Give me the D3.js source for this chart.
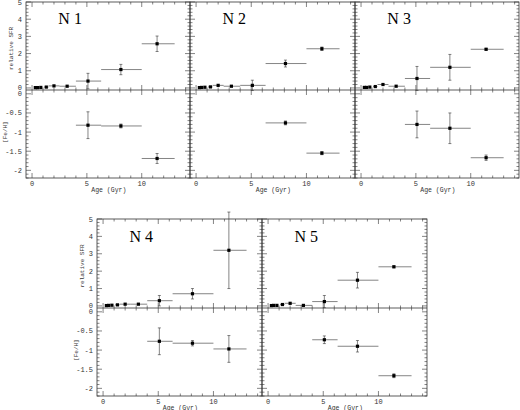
<!DOCTYPE html>
<html><head><meta charset="utf-8">
<script src="https://cdn.jsdelivr.net/npm/d3@7"></script>
<style>body{margin:0;background:#fff}</style>
</head><body>
<script>
// shared age bins: center, low, high
const ageMid = [0.3, 0.5, 0.8, 1.3, 2.0, 3.2, 5.1, 8.1, 11.4];
const ageLo  = [0.3, 0.5, 0.8, 1.1, 1.5, 2.5, 4.0, 6.3, 10.0];
const ageHi  = [0.3, 0.5, 0.8, 1.5, 2.5, 4.0, 6.3, 10.0, 13.0];

const sfrN1 = [0.02, 0.02, 0.03, 0.05, 0.12, 0.1, 0.4, 1.07, 2.57];
const sfrErrN1 = [0, 0, 0, 0, 0, 0, 0.45, 0.3, 0.45];
const sfrN2 = [0.02, 0.03, 0.04, 0.06, 0.15, 0.1, 0.15, 1.42, 2.28];
const sfrErrN2 = [0, 0, 0, 0, 0, 0, 0.3, 0.2, 0.1];
const sfrN3 = [0.03, 0.03, 0.05, 0.08, 0.2, 0.1, 0.55, 1.2, 2.25];
const sfrErrN3 = [0, 0, 0, 0, 0, 0, 0.7, 0.75, 0.05];
const sfrN4 = [0.02, 0.03, 0.04, 0.06, 0.1, 0.1, 0.3, 0.7, 3.2];
const sfrErrN4 = [0, 0, 0, 0, 0, 0, 0.3, 0.3, 2.2];
const sfrN5 = [0.02, 0.03, 0.03, 0.08, 0.15, 0.03, 0.25, 1.48, 2.25];
const sfrErrN5 = [0, 0, 0, 0, 0, 0, 0.35, 0.45, 0.05];

// [Fe/H] for the three oldest bins (null = none)
const feN1 = [-0.82, -0.84, -1.69], feErrN1 = [0.35, 0.05, 0.13];
const feN2 = [null, -0.76, -1.55],  feErrN2 = [0, 0.05, 0.04];
const feN3 = [-0.8, -0.9, -1.67],   feErrN3 = [0.35, 0.4, 0.07];
const feN4 = [-0.77, -0.82, -0.97], feErrN4 = [0.35, 0.07, 0.35];
const feN5 = [-0.73, -0.9, -1.67],  feErrN5 = [0.1, 0.15, 0.05];

const names = ["N 1", "N 2", "N 3", "N 4", "N 5"];
const sfrs = [sfrN1, sfrN2, sfrN3, sfrN4, sfrN5];
const sfrErrs = [sfrErrN1, sfrErrN2, sfrErrN3, sfrErrN4, sfrErrN5];
const fes = [feN1, feN2, feN3, feN4, feN5];
const feErrs = [feErrN1, feErrN2, feErrN3, feErrN4, feErrN5];

const svg = d3.select("body").append("svg").attr("width", 520).attr("height", 410)
  .style("font-family", "Liberation Mono, monospace");

// panel frames: left, right, top, divider, bottom
const panels = [
  {x0: 26, x1: 190, t: 2, m: 90, b: 178, yl: true},
  {x0: 190, x1: 355, t: 2, m: 90, b: 178, yl: false},
  {x0: 355, x1: 519, t: 2, m: 90, b: 178, yl: false},
  {x0: 97, x1: 262, t: 219, m: 308, b: 396, yl: true},
  {x0: 262, x1: 427, t: 219, m: 308, b: 396, yl: false}
];
const col = "#333";

panels.forEach((p, k) => {
  const x = d3.scaleLinear().domain([-0.55, 14.4]).range([p.x0, p.x1]);
  const ys = d3.scaleLinear().domain([-0.12, 5]).range([p.m, p.t]);
  const yf = d3.scaleLinear().domain([-2.2, 0.1]).range([p.b, p.m]);
  const g = svg.append("g");

  g.append("rect").attr("x", p.x0).attr("y", p.t).attr("width", p.x1 - p.x0)
    .attr("height", p.b - p.t).attr("fill", "none").attr("stroke", col).attr("stroke-width", 0.8);
  g.append("line").attr("x1", p.x0).attr("x2", p.x1).attr("y1", p.m).attr("y2", p.m)
    .attr("stroke", col).attr("stroke-width", 0.8);

  const tick = (x1, y1, x2, y2) => g.append("line").attr("x1", x1).attr("y1", y1)
    .attr("x2", x2).attr("y2", y2).attr("stroke", col).attr("stroke-width", 0.6);

  // x ticks on every horizontal border
  d3.range(0, 14.01, 1).forEach(v => {
    const len = v % 5 === 0 ? 5 : 2.5, xx = x(v);
    [p.t, p.m].forEach(yy => tick(xx, yy, xx, yy + len));
    [p.m, p.b].forEach(yy => tick(xx, yy, xx, yy - len));
  });
  // y ticks SFR
  d3.range(0, 5.01, 0.2).forEach(v => {
    const len = Math.abs(v - Math.round(v)) < 1e-6 ? 5 : 2.5;
    tick(p.x0, ys(v), p.x0 + len, ys(v));
    tick(p.x1, ys(v), p.x1 - len, ys(v));
  });
  d3.range(-2.2, 0.01, 0.1).forEach(v => {
    const len = Math.abs(v * 2 - Math.round(v * 2)) < 1e-6 ? 5 : 2.5;
    tick(p.x0, yf(v), p.x0 + len, yf(v));
    tick(p.x1, yf(v), p.x1 - len, yf(v));
  });

  // x labels
  [0, 5, 10].forEach(v => g.append("text").attr("x", x(v)).attr("y", p.b + 8)
    .attr("text-anchor", "middle").attr("font-size", 7).attr("fill", col).text(v));
  g.append("text").attr("x", x(7)).attr("y", p.b + 13.5).attr("text-anchor", "middle")
    .attr("font-size", 6.5).attr("fill", col).text("Age (Gyr)");

  if (p.yl) {
    [0, 1, 2, 3, 4, 5].forEach(v => g.append("text").attr("x", p.x0 - 4).attr("y", ys(v) + 2.5)
      .attr("text-anchor", "end").attr("font-size", 7).attr("fill", col).text(v));
    [0, -0.5, -1, -1.5, -2].forEach(v => g.append("text").attr("x", p.x0 - 4).attr("y", yf(v) + 2.5)
      .attr("text-anchor", "end").attr("font-size", 7).attr("fill", col).text(v));
    g.append("text").attr("transform", `translate(${p.x0 - 13},${ys(2.3)}) rotate(-90)`)
      .attr("text-anchor", "middle").attr("font-size", 6).attr("fill", col).text("relative SFR");
    g.append("text").attr("transform", `translate(${p.x0 - 19},${yf(-1)}) rotate(-90)`)
      .attr("text-anchor", "middle").attr("font-size", 6).attr("fill", col).text("[Fe/H]");
  }

  g.append("text").attr("x", x(2.4)).attr("y", ys(3.7)).attr("font-size", 16)
    .attr("font-family", "Liberation Serif, serif").attr("fill", "#000").text(names[k]);

  // SFR points
  const sfr = sfrs[k], se = sfrErrs[k];
  ageMid.forEach((a, i) => {
    if (ageHi[i] > ageLo[i]) tick(x(ageLo[i]), ys(sfr[i]), x(ageHi[i]), ys(sfr[i]));
    if (se[i] > 0) {
      tick(x(a), ys(sfr[i] - se[i]), x(a), ys(sfr[i] + se[i]));
      [-se[i], se[i]].forEach(d => tick(x(a) - 1.5, ys(sfr[i] + d), x(a) + 1.5, ys(sfr[i] + d)));
    }
    g.append("rect").attr("x", x(a) - 1.6).attr("y", ys(sfr[i]) - 1.6)
      .attr("width", 3.2).attr("height", 3.2).attr("fill", "#000");
  });
  // Fe points
  const fe = fes[k], fe2 = feErrs[k];
  fe.forEach((v, j) => {
    if (v === null) return;
    const i = j + 6, a = ageMid[i];
    tick(x(ageLo[i]), yf(v), x(ageHi[i]), yf(v));
    tick(x(a), yf(v - fe2[j]), x(a), yf(v + fe2[j]));
    [-fe2[j], fe2[j]].forEach(d => tick(x(a) - 1.5, yf(v + d), x(a) + 1.5, yf(v + d)));
    g.append("rect").attr("x", x(a) - 1.6).attr("y", yf(v) - 1.6)
      .attr("width", 3.2).attr("height", 3.2).attr("fill", "#000");
  });
});
</script>
</body></html>
